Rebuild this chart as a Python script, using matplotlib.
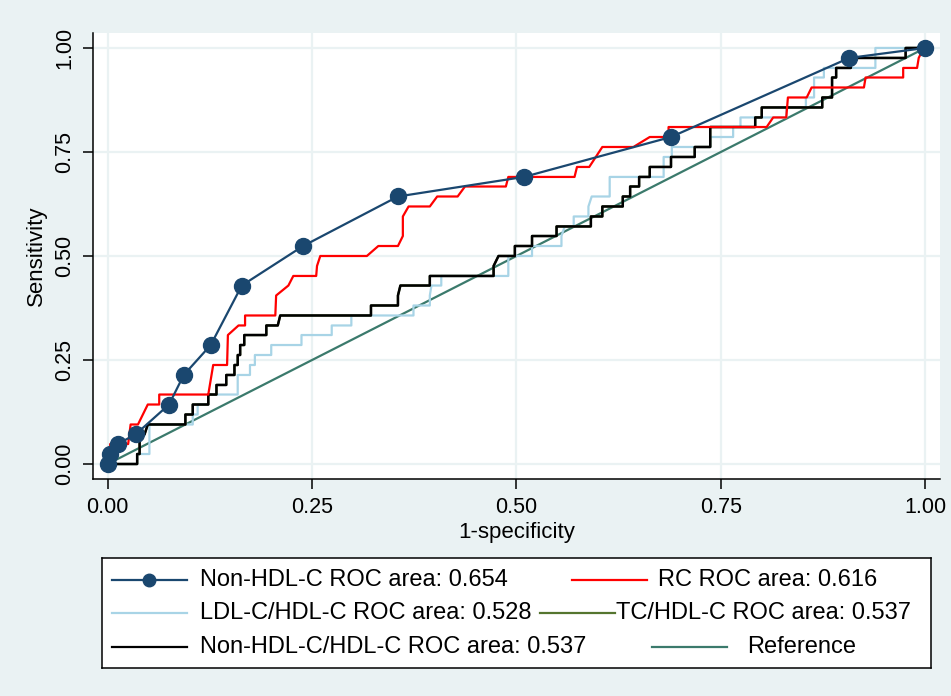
import matplotlib
matplotlib.use("Agg")
import matplotlib.pyplot as plt
from matplotlib.lines import Line2D

plt.rcParams['font.family'] = ['Liberation Sans', 'DejaVu Sans']

# ROC curves: (1-specificity, sensitivity)
nonhdl_fpr = [0, 0.003, 0.012, 0.034, 0.075, 0.093, 0.126, 0.164, 0.239, 0.355, 0.509, 0.689, 0.907, 1.0]
nonhdl_tpr = [0, 0.024, 0.048, 0.071, 0.143, 0.214, 0.286, 0.429, 0.524, 0.643, 0.690, 0.786, 0.976, 1.0]

rc_fpr = [0, 0.003, 0.003, 0.025, 0.028, 0.037, 0.049, 0.063, 0.063, 0.123, 0.129, 0.146, 0.147,
          0.160, 0.168, 0.168, 0.205, 0.206, 0.221, 0.227, 0.255, 0.256, 0.260, 0.317, 0.331,
          0.355, 0.361, 0.361, 0.368, 0.394, 0.403, 0.428, 0.437, 0.487, 0.490, 0.571, 0.574,
          0.589, 0.605, 0.643, 0.663, 0.686, 0.686, 0.806, 0.814, 0.830, 0.832, 0.855, 0.861,
          0.925, 0.927, 0.973, 0.973, 0.990, 0.992, 0.998, 1.0]
rc_tpr = [0, 0.024, 0.048, 0.048, 0.095, 0.095, 0.143, 0.143, 0.167, 0.167, 0.238, 0.238, 0.310,
          0.333, 0.333, 0.357, 0.357, 0.405, 0.429, 0.452, 0.452, 0.476, 0.500, 0.500, 0.524,
          0.524, 0.548, 0.595, 0.619, 0.619, 0.643, 0.643, 0.667, 0.667, 0.690, 0.690, 0.714,
          0.714, 0.762, 0.762, 0.786, 0.786, 0.810, 0.810, 0.833, 0.833, 0.881, 0.881, 0.905,
          0.905, 0.929, 0.929, 0.952, 0.952, 0.976, 1.0, 1.0]

ldl_fpr = [0, 0.036, 0.036, 0.051, 0.051, 0.104, 0.104, 0.110, 0.110, 0.123, 0.123, 0.159, 0.159,
           0.174, 0.174, 0.180, 0.180, 0.200, 0.200, 0.237, 0.237, 0.274, 0.274, 0.298, 0.298,
           0.374, 0.374, 0.394, 0.394, 0.396, 0.408, 0.408, 0.490, 0.490, 0.519, 0.519, 0.555,
           0.555, 0.559, 0.570, 0.570, 0.588, 0.588, 0.592, 0.614, 0.614, 0.680, 0.680, 0.690,
           0.690, 0.737, 0.737, 0.765, 0.765, 0.774, 0.774, 0.830, 0.830, 0.854, 0.854, 0.864,
           0.864, 0.876, 0.876, 0.939, 0.939, 1.0]
ldl_tpr = [0, 0, 0.024, 0.024, 0.095, 0.095, 0.119, 0.119, 0.143, 0.143, 0.167, 0.167, 0.214,
           0.214, 0.238, 0.238, 0.262, 0.262, 0.286, 0.286, 0.310, 0.310, 0.333, 0.333, 0.357,
           0.357, 0.381, 0.381, 0.405, 0.429, 0.429, 0.452, 0.452, 0.500, 0.500, 0.524, 0.524,
           0.548, 0.571, 0.571, 0.595, 0.595, 0.619, 0.643, 0.643, 0.690, 0.690, 0.738, 0.738,
           0.762, 0.762, 0.786, 0.786, 0.810, 0.810, 0.833, 0.833, 0.857, 0.857, 0.881, 0.881,
           0.929, 0.929, 0.952, 0.952, 1.0, 1.0]

ratio_fpr = [0, 0.036, 0.036, 0.039, 0.039, 0.045, 0.049, 0.095, 0.095, 0.104, 0.104, 0.123, 0.123,
             0.133, 0.133, 0.145, 0.145, 0.155, 0.155, 0.159, 0.159, 0.162, 0.162, 0.167, 0.167,
             0.194, 0.194, 0.208, 0.211, 0.322, 0.322, 0.355, 0.355, 0.358, 0.394, 0.394, 0.472,
             0.472, 0.478, 0.498, 0.498, 0.519, 0.519, 0.549, 0.549, 0.591, 0.591, 0.605, 0.605,
             0.630, 0.630, 0.639, 0.639, 0.650, 0.650, 0.663, 0.663, 0.689, 0.689, 0.718, 0.718,
             0.737, 0.737, 0.792, 0.792, 0.800, 0.800, 0.874, 0.874, 0.886, 0.886, 0.891, 0.891,
             0.909, 0.909, 0.976, 0.976, 1.0]
ratio_tpr = [0, 0, 0.024, 0.024, 0.071, 0.071, 0.095, 0.095, 0.119, 0.119, 0.143, 0.143, 0.167,
             0.167, 0.190, 0.190, 0.214, 0.214, 0.238, 0.238, 0.262, 0.262, 0.286, 0.286, 0.310,
             0.310, 0.333, 0.333, 0.357, 0.357, 0.381, 0.381, 0.405, 0.429, 0.429, 0.452, 0.452,
             0.476, 0.500, 0.500, 0.524, 0.524, 0.548, 0.548, 0.571, 0.571, 0.595, 0.595, 0.619,
             0.619, 0.643, 0.643, 0.667, 0.667, 0.690, 0.690, 0.714, 0.714, 0.738, 0.738, 0.762,
             0.762, 0.810, 0.810, 0.833, 0.833, 0.857, 0.857, 0.881, 0.881, 0.929, 0.929, 0.952,
             0.952, 0.976, 0.976, 1.0, 1.0]

# TC/HDL-C curve is hidden under the Non-HDL-C/HDL-C curve (same AUC)
tc_fpr = ratio_fpr
tc_tpr = ratio_tpr

ref_x = [0, 1]
ref_y = [0, 1]

ticks = [0, 0.25, 0.5, 0.75, 1.0]
tick_labels = ["0.00", "0.25", "0.50", "0.75", "1.00"]

labels = ["Non-HDL-C ROC area: 0.654", "RC ROC area: 0.616",
          "LDL-C/HDL-C ROC area: 0.528", "TC/HDL-C ROC area: 0.537",
          "Non-HDL-C/HDL-C ROC area: 0.537", "Reference"]

bg = "#eaf2f3"
navy = "#1a476f"
red = "#ff0000"
lblue = "#a8d4e6"
olive = "#55752f"
teal = "#3b7a6c"

fig = plt.figure(figsize=(9.51, 6.96), dpi=100, facecolor=bg)
ax = fig.add_axes([0.0978, 0.3118, 0.8906, 0.6408])
ax.set_facecolor("white")

ax.plot(ref_x, ref_y, color=teal, lw=1.6, zorder=2)
ax.plot(ldl_fpr, ldl_tpr, color=lblue, lw=1.6, zorder=3)
ax.plot(tc_fpr, tc_tpr, color=olive, lw=1.6, zorder=3)
ax.plot(ratio_fpr, ratio_tpr, color="black", lw=1.8, zorder=4)
ax.plot(rc_fpr, rc_tpr, color=red, lw=1.6, zorder=5)
ax.plot(nonhdl_fpr, nonhdl_tpr, color=navy, lw=1.6, marker="o", ms=11.5, zorder=6)

ax.set_xlim(-0.018, 1.018)
ax.set_ylim(-0.036, 1.036)
ax.set_xticks(ticks)
ax.set_xticklabels(tick_labels)
ax.set_yticks(ticks)
ax.set_yticklabels(tick_labels, rotation=90, va="center")
ax.tick_params(length=7, width=1.1, labelsize=15.5, pad=6, color="black")
ax.grid(True, color=bg, lw=1.6)
ax.set_axisbelow(True)
for s in ["top", "right"]:
    ax.spines[s].set_visible(False)
for s in ["left", "bottom"]:
    ax.spines[s].set_linewidth(1.1)
ax.set_xlabel("1-specificity", fontsize=16, labelpad=3)
ax.set_ylabel("Sensitivity", fontsize=16, labelpad=5)

# legend box, drawn in its own axes (pixel-like coordinates)
lg = fig.add_axes([0.1069, 0.0398, 0.8717, 0.1589])
lg.set_xlim(101.7, 930.7)
lg.set_ylim(668.3, 558.3)
lg.set_xticks([])
lg.set_yticks([])
lg.set_facecolor("white")
for s in lg.spines.values():
    s.set_linewidth(1.1)

rows = [580, 613.3, 646.7]
entries = [
    (111.7, 186.7, 200, rows[0], navy, labels[0], True),
    (571.7, 646.7, 658.3, rows[0], red, labels[1], False),
    (111.7, 186.7, 200, rows[1], lblue, labels[2], False),
    (540, 615, 616, rows[1], olive, labels[3], False),
    (111.7, 186.7, 200, rows[2], "black", labels[4], False),
    (651.7, 726.7, 746.7, rows[2], teal, labels[5], False),
]
for x0, x1, tx, y, c, lab, mk in entries:
    lg.add_line(Line2D([x0, x1], [y, y], color=c, lw=1.6))
    if mk:
        lg.plot([(x0 + x1) / 2], [y], marker="o", ms=9, color=c)
    lg.text(tx, y, lab, fontsize=17, va="center", ha="left")

fig.savefig("out.png", dpi=100, facecolor=bg)
